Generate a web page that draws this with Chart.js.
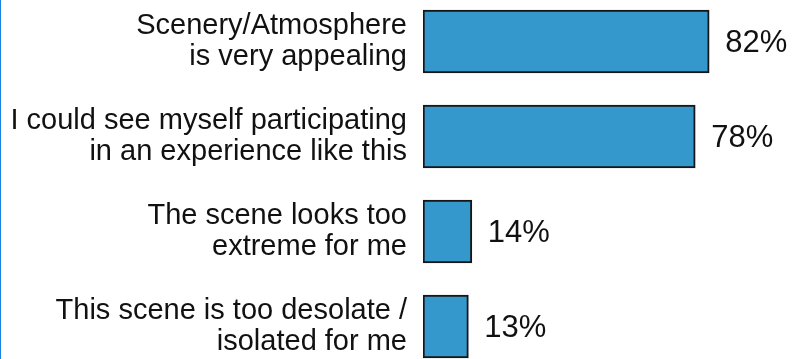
<!DOCTYPE html>
<html lang="en">

<head>
    <meta charset="UTF-8">
    <title>Scene reactions</title>
    <style>
        html, body { margin: 0; padding: 0; background: #fff; overflow: hidden; }
        body { width: 794px; height: 359px; position: relative; }
        .edge { position: absolute; left: 0; top: 0; width: 1px; height: 359px; background: #1a82e2; z-index: 2; }
        .wrap { position: absolute; left: 0; top: -6px; width: 794px; height: 380px; }
    </style>
</head>

<body>
    <div class="edge"></div>
    <div class="wrap">
        <canvas id="myChart" width="794" height="380"></canvas>
    </div>

    <script src="https://cdn.jsdelivr.net/npm/chart.js@4.4.1/dist/chart.umd.min.js"></script>
    <script>
        const categories = [
            ['Scenery/Atmosphere', 'is very appealing'],
            ['I could see myself participating', 'in an experience like this'],
            ['The scene looks too', 'extreme for me'],
            ['This scene is too desolate /', 'isolated for me']
        ];
        const values = [82, 78, 14, 13];

        const FONT = 'Arial, "Liberation Sans", sans-serif';

        // percent labels to the right of each bar
        const valueLabels = {
            id: 'valueLabels',
            afterDatasetsDraw(chart) {
                const ctx = chart.ctx;
                const meta = chart.getDatasetMeta(0);
                ctx.save();
                ctx.font = '31px ' + FONT;
                ctx.fillStyle = '#111';
                ctx.textAlign = 'left';
                ctx.textBaseline = 'middle';
                meta.data.forEach((bar, i) => {
                    ctx.fillText(values[i] + '%', bar.x + 16, bar.y + 2);
                });
                ctx.restore();
            }
        };

        var ctx = document.getElementById('myChart');
        var config = {
            type: 'bar',
            data: {
                labels: categories,
                datasets: [
                    {
                        data: values,
                        backgroundColor: '#3498cd',
                        borderColor: '#161616',
                        borderWidth: 2,
                        borderSkipped: false,
                        barThickness: 63
                    }
                ]
            },
            options: {
                indexAxis: 'y',
                responsive: false,
                animation: false,
                layout: { padding: { left: 0, right: 22, top: 0, bottom: 0 } },
                plugins: {
                    legend: { display: false },
                    tooltip: { enabled: false }
                },
                scales: {
                    x: {
                        display: false,
                        min: 0,
                        max: 100
                    },
                    y: {
                        grid: { display: false, drawTicks: false },
                        border: { display: false },
                        ticks: {
                            color: '#111',
                            padding: 16,
                            font: { family: FONT, size: 29, lineHeight: 1.04 }
                        },
                        afterFit(scale) {
                            // fixed axis width, and no extra room above/below for the labels
                            scale.width = 423;
                            scale.paddingTop = 0;
                            scale.paddingBottom = 0;
                        }
                    }
                }
            },
            plugins: [valueLabels]
        }
        var chart = new Chart(ctx, config);
    </script>

</body>

</html>
